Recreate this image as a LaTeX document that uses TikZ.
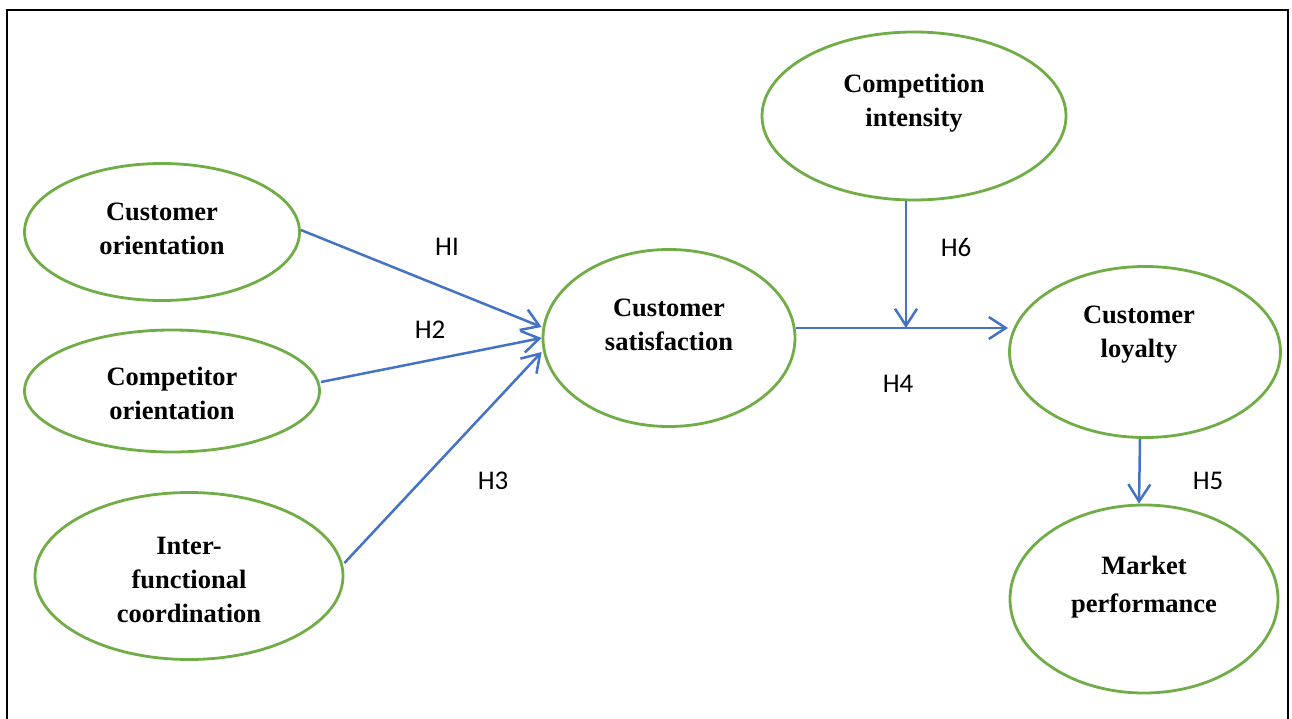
\documentclass[tikz,border=0pt]{standalone}
\usepackage{fontspec}
\setmainfont{Liberation Serif}
\newfontfamily\hfont{Carlito}
\usetikzlibrary{shapes.geometric,arrows.meta,positioning}
\definecolor{BubbleGreen}{HTML}{70AD47}
\definecolor{LinkBlue}{HTML}{4472C4}
\tikzset{
    % Construct ellipse
    bubble/.style={
        ellipse,
        draw=BubbleGreen,
        line width=2.8pt,
        fill=white,
        inner sep=0pt
    },
    % Construct name inside the ellipse
    bubbletext/.style={
        align=center,
        inner sep=0pt,
        font=\fontsize{26.5}{34}\selectfont\bfseries
    },
    % Hypothesis arrow
    link/.style={
        -{Straight Barb[length=17pt,width=22pt]},
        line width=2.5pt,
        draw=LinkBlue
    },
    % Hypothesis label
    hlabel/.style={
        inner sep=0pt,
        font=\fontsize{27}{30}\selectfont\hfont
    },
    % Outer frame
    frame/.style={
        draw=black,
        line width=1.5pt
    }
}

\begin{document}
\begin{tikzpicture}[x=1pt,y=-1pt]
    \useasboundingbox (0,0) rectangle (1292,719);
    \draw[frame] (7,740) |- (1288,10) -- (1288,740);

    \node[bubble, minimum width=275pt, minimum height=137pt,
        label={[bubbletext, yshift=3pt]center:{Customer\\orientation}}] (co) at (162,232) {};
    \node[bubble, minimum width=295pt, minimum height=122pt,
        label={[bubbletext, yshift=-2pt]center:{Competitor\\orientation}}] (cpo) at (172,391) {};
    \node[bubble, minimum width=308pt, minimum height=167pt,
        label={[bubbletext, yshift=-4pt]center:{Inter-\\functional\\coordination}}] (ifc) at (189,576) {};
    \node[bubble, minimum width=252pt, minimum height=177pt,
        label={[bubbletext, yshift=13pt]center:{Customer\\satisfaction}}] (cs) at (669,338) {};
    \node[bubble, minimum width=304pt, minimum height=168pt,
        label={[bubbletext, yshift=13pt]center:{Competition\\intensity}}] (ci) at (914,116) {};
    \node[bubble, minimum width=271pt, minimum height=171pt,
        label={[bubbletext, xshift=-6pt, yshift=17pt]center:{Customer\\loyalty}}] (cl) at (1145,352) {};
    \node[bubble, minimum width=268pt, minimum height=188pt,
        label={[bubbletext, yshift=12pt, font=\fontsize{26.5}{38}\selectfont\bfseries]center:{Market\\performance}}] (mp) at (1144,599) {};

    \coordinate (jn) at (906,328);

    \draw[link] ([yshift=2pt]co.east) -- ([yshift=11pt]cs.west);
    \draw[link] ([yshift=9pt]cpo.east) -- (cs.west);
    \draw[link] ([yshift=13pt]ifc.east) -- ([yshift=-14pt]cs.west);
    \draw[link] (cs.east |- jn) -- (cl.west |- jn);
    \draw[link] (ci.south -| jn) -- (jn);
    \draw[link] ([xshift=-5pt]cl.south) -- ([xshift=-5pt]mp.north);

    \node[hlabel] (h1) at (447,247) {HI};
    \node[hlabel] (h2) at (430,330) {H2};
    \node[hlabel] (h3) at (493,481) {H3};
    \node[hlabel] (h4) at (898,384) {H4};
    \node[hlabel] (h6) at (956,247) {H6};
    \node[hlabel] (h5) at (1208,481) {H5};
\end{tikzpicture}
\end{document}
